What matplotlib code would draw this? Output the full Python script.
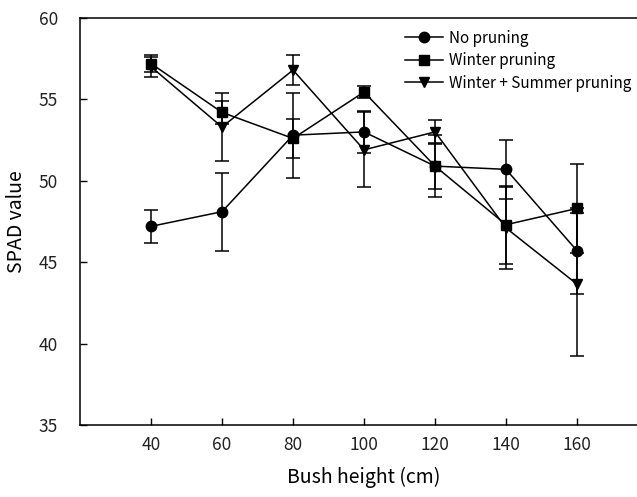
import matplotlib.pyplot as plt
import numpy as np

heights = [40, 60, 80, 100, 120, 140, 160]

no_pruning = [47.2, 48.1, 52.8, 53.0, 50.9, 50.7, 45.7]
no_pruning_err = [1.0, 2.4, 2.6, 1.3, 1.9, 1.8, 2.65]

winter = [57.2, 54.2, 52.6, 55.45, 50.9, 47.3, 48.3]
winter_err = [0.55, 0.7, 1.2, 0.35, 1.4, 2.4, 2.75]

winter_summer = [57.0, 53.3, 56.8, 51.9, 53.0, 47.1, 43.65]
winter_summer_err = [0.6, 2.1, 0.9, 2.3, 0.75, 2.5, 4.4]

plt.rcParams.update({"font.family": ["Noto Sans CJK KR", "DejaVu Sans"]})

fig = plt.figure(figsize=(6.37, 4.97), dpi=100)
ax = fig.add_axes([0.1256, 0.1449, 0.8917, 0.819])

series = [
    (no_pruning, no_pruning_err, 'o', 'No pruning'),
    (winter, winter_err, 's', 'Winter pruning'),
    (winter_summer, winter_summer_err, 'v', 'Winter + Summer pruning'),
]
for vals, err, m, lab in series:
    ax.errorbar(heights, vals, yerr=err, color='black', marker=m, markersize=7.5,
                linewidth=1.1, elinewidth=1.1, capsize=5, capthick=1.1, label=lab)

ax.set_xlim(20, 180)
ax.set_ylim(35, 60)
ax.set_xticks(heights)
ax.set_yticks([35, 40, 45, 50, 55, 60])
ax.tick_params(direction='in', length=5, width=1, labelsize=12.5, labelcolor='#222222')
ax.tick_params(axis='x', pad=8)
ax.tick_params(axis='y', pad=16)
for s in ax.spines.values():
    s.set_linewidth(1.1)

ax.set_xlabel('Bush height (cm)', fontsize=14, labelpad=9)
ax.set_ylabel('SPAD value', fontsize=14, labelpad=8)

handles, labels = ax.get_legend_handles_labels()
handles = [h[0] for h in handles]
ax.legend(handles, labels, loc='upper left', bbox_to_anchor=(0.548, 1.005), frameon=False,
          fontsize=11, handlelength=2.5, handletextpad=0.35, labelspacing=0.36)

fig.savefig('out.png', dpi=100)
